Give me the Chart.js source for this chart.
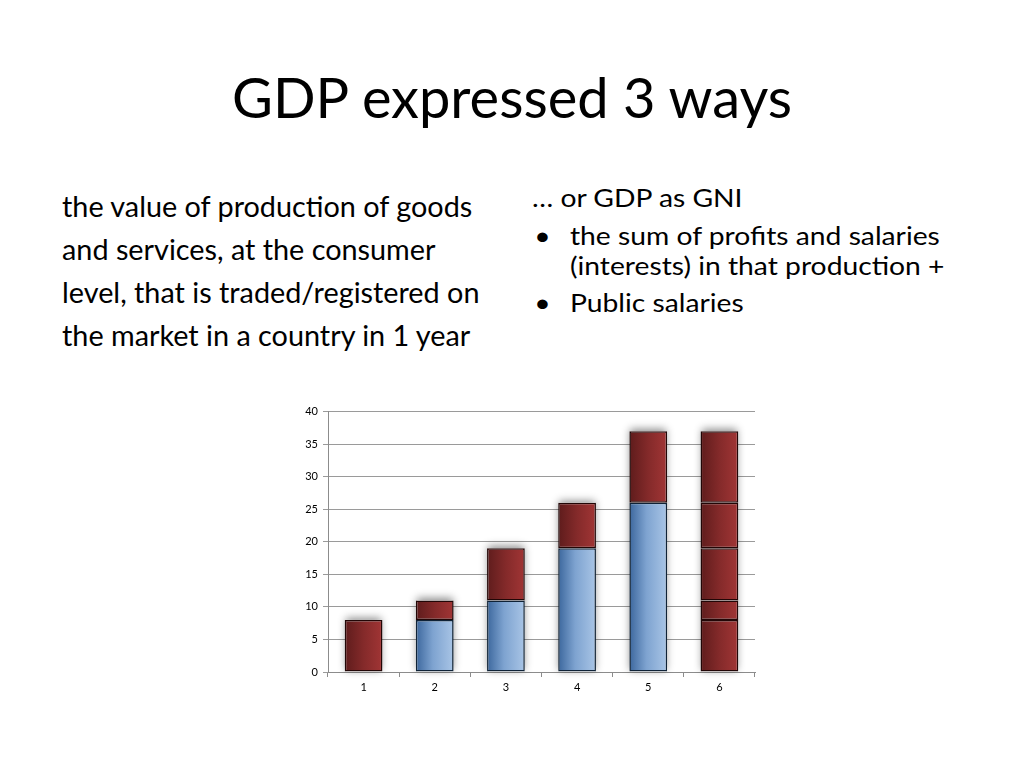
<!DOCTYPE html>
<html>
<head>
<meta charset="utf-8">
<script src="https://cdn.jsdelivr.net/npm/chart.js@4.4.1/dist/chart.umd.min.js"></script>
<style>
  html, body { margin:0; padding:0; background:#fff; width:1024px; height:768px; overflow:hidden; font-family: Lato, "Open Sans", sans-serif; color:#000; }
  #title { position:absolute; left:0; width:1024px; top:62px; text-align:center; font-size:56px; line-height:70px; }
  #left { position:absolute; left:62px; top:185px; font-size:28.8px; line-height:43px; white-space:nowrap; }
  #right { position:absolute; left:532px; top:182px; font-size:25px; line-height:30px; white-space:nowrap; transform:scaleX(1.13); transform-origin:0 0; }
  #right .b { position:relative; padding-left:33.6px; }
  #right .b:before { content:"•"; position:absolute; left:2px; }
  #wrap { position:absolute; left:280px; top:400px; width:490px; height:305px; }
</style>
</head>
<body>
<div id="title">GDP expressed 3 ways</div>
<div id="left">the value of production of goods<br>and services, at the consumer<br>level, that is traded/registered on<br>the market in a country in 1 year</div>
<div id="right">
  <div style="margin-bottom:8px">… or GDP as GNI</div>
  <div class="b">the sum of profits and salaries<br>(interests) in that production +</div>
  <div class="b" style="margin-top:7px">Public salaries</div>
</div>
<div id="wrap"><canvas id="c" width="490" height="305"></canvas></div>
<script>
const categories = ['1', '2', '3', '4', '5', '6'];
const production = [null, 8, 11, 19, 26, null];   // blue base
const added      = [8, 3, 8, 7, 11, 8];          // red segment on top
const part2      = [null, null, null, null, null, 3];
const part3      = [null, null, null, null, null, 8];
const part4      = [null, null, null, null, null, 7];
const part5      = [null, null, null, null, null, 11];
const yTicks     = [0, 5, 10, 15, 20, 25, 30, 35, 40];

const BAR_PCT = 0.53;
function grad(kind) {
  return function(ctx) {
    const chart = ctx.chart;
    const area = chart.chartArea;
    if (!area || !chart.scales.x) return kind === 'blue' ? '#6d95c8' : '#8a2a2a';
    const xs = chart.scales.x;
    const cx = xs.getPixelForValue(ctx.dataIndex);
    const w = (area.right - area.left) / categories.length * BAR_PCT;
    const g = chart.ctx.createLinearGradient(cx - w/2, 0, cx + w/2, 0);
    if (kind === 'blue') {
      g.addColorStop(0, '#3c679d');
      g.addColorStop(0.45, '#7ea3d0');
      g.addColorStop(1, '#a9c5e6');
    } else {
      g.addColorStop(0, '#5e1c1c');
      g.addColorStop(0.5, '#842a2a');
      g.addColorStop(1, '#a13535');
    }
    return g;
  };
}

function ds(label, data, kind) {
  return {
    label, data,
    backgroundColor: grad(kind),
    borderColor: kind === 'blue' ? '#0f2236' : '#220606',
    borderWidth: 1.5,
    borderSkipped: false,
    inflateAmount: 0,
    barPercentage: BAR_PCT,
    categoryPercentage: 1.0
  };
}

// soft glow above each bar stack, drawn behind the bars
const shadowPlugin = {
  id: 'shadow',
  beforeDatasetsDraw(chart) {
    const c = chart.ctx;
    const xs = chart.scales.x, ys = chart.scales.y;
    const area = chart.chartArea;
    const w = (area.right - area.left) / categories.length * BAR_PCT;
    c.save();
    c.shadowColor = 'rgba(0,0,0,0.45)';
    c.shadowBlur = 8;
    c.shadowOffsetY = -2;
    c.fillStyle = '#ffffff';
    categories.forEach((_, i) => {
      let total = 0;
      chart.data.datasets.forEach(d => { if (d.data[i] != null) total += d.data[i]; });
      const cx = xs.getPixelForValue(i);
      const top = ys.getPixelForValue(total);
      const bot = ys.getPixelForValue(0);
      c.fillRect(cx - w/2 + 1, top, w - 2, bot - top);
    });
    c.restore();
  }
};

new Chart(document.getElementById('c'), {
  type: 'bar',
  data: {
    labels: categories,
    datasets: [
      ds('production', production, 'blue'),
      ds('added', added, 'red'),
      ds('part2', part2, 'red'),
      ds('part3', part3, 'red'),
      ds('part4', part4, 'red'),
      ds('part5', part5, 'red')
    ]
  },
  plugins: [shadowPlugin],
  options: {
    responsive: false,
    animation: false,
    layout: { padding: { left: 0, right: 15, top: 11, bottom: 0 } },
    plugins: { legend: { display: false }, tooltip: { enabled: false } },
    scales: {
      x: {
        stacked: true,
        grid: { display: true, drawOnChartArea: false, color: '#8c8c8c', tickLength: 5, offset: true },
        border: { display: true, color: '#8c8c8c' },
        ticks: { color: '#000', font: { family: 'Lato', size: 11 }, padding: 4 },
        afterFit(s) { s.height = 33; }
      },
      y: {
        stacked: true,
        min: 0, max: 40,
        afterBuildTicks(s) { s.ticks = yTicks.map(v => ({ value: v })); },
        grid: { color: '#9a9a9a', tickLength: 5, lineWidth: 1 },
        border: { display: true, color: '#8c8c8c' },
        ticks: { color: '#000', font: { family: 'Lato', size: 11 }, padding: 5 },
        afterFit(s) { s.width = 48; }
      }
    }
  }
});
</script>
</body>
</html>
